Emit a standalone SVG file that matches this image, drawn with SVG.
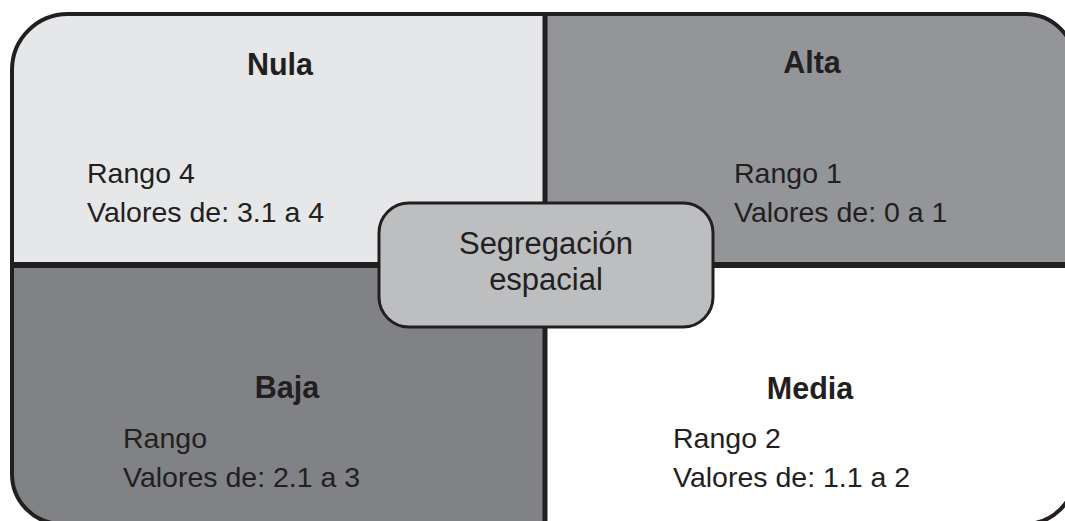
<svg xmlns="http://www.w3.org/2000/svg" width="1065" height="521" viewBox="0 0 1065 521">
<style>
.title{font-family:"Liberation Sans",Arial,sans-serif;font-weight:bold;font-size:30.5px;fill:#231f20;text-anchor:middle}
.body{font-family:"Liberation Sans",Arial,sans-serif;font-size:28.5px;fill:#231f20}
.center{font-family:"Liberation Sans",Arial,sans-serif;font-size:31px;fill:#231f20;text-anchor:middle}
.div{stroke:#231f20;fill:none}
</style>
<defs>
<clipPath id="outerClip">
<path d="M12,70 A56,56 0 0 1 68,14 L1025,14 A50,50 0 0 1 1075,64 L1075,474 A50,50 0 0 1 1025,524 L62,524 A50,50 0 0 1 12,474 Z"/>
</clipPath>
</defs>
<rect width="1065" height="521" fill="#ffffff"/>
<g clip-path="url(#outerClip)">
<g id="nula">
<rect x="0" y="0" width="545" height="265" fill="#e6e7e8"/>
</g>
<g id="alta">
<rect x="545" y="0" width="540" height="265" fill="#939598"/>
</g>
<g id="baja">
<rect x="0" y="265" width="545" height="270" fill="#808285"/>
</g>
<g id="media">
<rect x="545" y="265" width="540" height="270" fill="#ffffff"/>
</g>
</g>
<g id="connectors">
<line class="div" x1="12" y1="265" x2="1075" y2="265" stroke-width="6"/>
<line class="div" x1="545" y1="14" x2="545" y2="524" stroke-width="5"/>
</g>
<path d="M12,70 A56,56 0 0 1 68,14 L1025,14 A50,50 0 0 1 1075,64 L1075,474 A50,50 0 0 1 1025,524 L62,524 A50,50 0 0 1 12,474 Z" fill="none" stroke="#231f20" stroke-width="4"/>
<g id="nula-text">
<text class="title" x="280" y="75">Nula</text>
<text class="body" x="87" y="183">Rango 4</text>
<text class="body" x="87" y="222">Valores de: 3.1 a 4</text>
</g>
<g id="alta-text">
<text class="title" x="812" y="73">Alta</text>
<text class="body" x="734" y="183">Rango 1</text>
<text class="body" x="734" y="222">Valores de: 0 a 1</text>
</g>
<g id="baja-text">
<text class="title" x="287" y="398">Baja</text>
<text class="body" x="123" y="448">Rango</text>
<text class="body" x="123" y="487">Valores de: 2.1 a 3</text>
</g>
<g id="media-text">
<text class="title" x="810" y="399">Media</text>
<text class="body" x="673" y="448">Rango 2</text>
<text class="body" x="673" y="487">Valores de: 1.1 a 2</text>
</g>
<g id="segregacion">
<rect x="379" y="203" width="334" height="124" rx="30" ry="30" fill="#bcbec0" stroke="#231f20" stroke-width="3"/>
<text class="center" x="546" y="254">Segregación</text>
<text class="center" x="546" y="290">espacial</text>
</g>
</svg>
